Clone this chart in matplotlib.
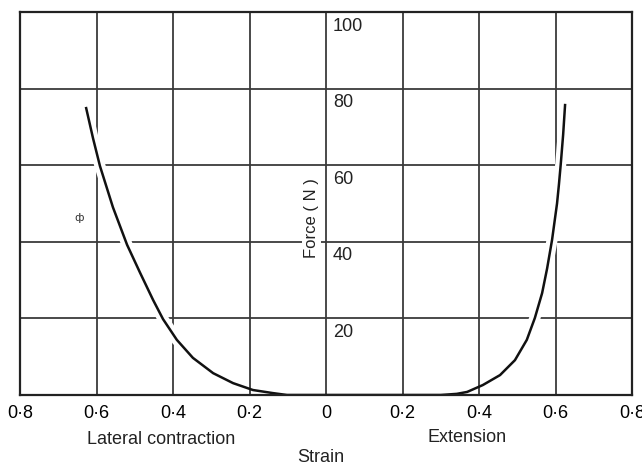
import matplotlib.pyplot as plt
from matplotlib import transforms

# Force-strain curve (strain, force in N)
strain = [-0.627, -0.609, -0.591, -0.557, -0.520, -0.486, -0.452, -0.426, -0.390,
          -0.348, -0.295, -0.243, -0.191, -0.139, -0.102, -0.05, 0.0,
          0.30, 0.342, 0.369, 0.410, 0.455, 0.494, 0.525, 0.546,
          0.565, 0.578, 0.591, 0.604, 0.609, 0.614, 0.620, 0.625]
force = [74.9, 67.0, 59.8, 49.0, 39.2, 31.9, 24.8, 19.8, 14.4,
         9.7, 5.7, 3.1, 1.3, 0.5, 0.0, 0.0, 0.0,
         0.0, 0.3, 0.8, 2.6, 5.2, 9.1, 14.4, 20.1,
         26.6, 33.0, 40.5, 50.0, 55.0, 60.6, 68.0, 75.7]

x_ticks = [-0.8, -0.6, -0.4, -0.2, 0.0, 0.2, 0.4, 0.6, 0.8]
x_labels = ["0·8", "0·6", "0·4", "0·2", "0", "0·2", "0·4", "0·6", "0·8"]
y_ticks = [20, 40, 60, 80, 100]

plt.rcParams["font.family"] = ["Liberation Sans", "DejaVu Sans"]

fig = plt.figure(figsize=(6.42, 4.68), dpi=100)
ax = fig.add_axes([20 / 642, 1 - 395 / 468, 612 / 642, 383 / 468])
ax.set_xlim(-0.8, 0.8)
ax.set_ylim(0, 100)

grid_col = "#3a3a3a"
ax.set_axisbelow(True)
ax.set_xticks(x_ticks)
ax.set_xticklabels(x_labels, fontsize=13)
ax.set_yticks(y_ticks)
ax.set_yticklabels([])
ax.tick_params(length=0, pad=7)
ax.tick_params(axis="y", left=False, labelleft=False)
ax.grid(True, color=grid_col, linewidth=1.3)
for s in ax.spines.values():
    s.set_color("#222222")
    s.set_linewidth(1.6)
    s.set_zorder(3)

# white halo under the curve breaks the grid lines where it crosses them
halo_x = [x for x, y in zip(strain, force) if y >= 4]
halo_y = [y for y in force if y >= 4]
left_n = sum(1 for x in halo_x if x < 0)
for xs, ys in ((halo_x[:left_n], halo_y[:left_n]), (halo_x[left_n:], halo_y[left_n:])):
    ax.plot(xs, ys, color="white", linewidth=8, solid_capstyle="butt",
            solid_joinstyle="round", zorder=1)

ax.plot(strain, force, color="#111111", linewidth=1.8, zorder=2.6,
        solid_joinstyle="round")

# force labels sit to the right of the central axis
for v in y_ticks:
    ax.annotate(str(v), xy=(0, v), xytext=(5, -4), textcoords="offset points",
                ha="left", va="top", fontsize=13, color="#222222")

ax.text(-0.039, 46.2, "Force ( N )", rotation=90, ha="center", va="center",
        fontsize=12, color="#222222", zorder=4,
        bbox=dict(facecolor="white", edgecolor="none", pad=1.5))

# small stray mark in the original scan
ax.text(-0.646, 46.2, "ф", ha="center", va="center", fontsize=8,
        family=["DejaVu Sans"], color="#333333")

trans = transforms.blended_transform_factory(ax.transData, ax.transAxes)
ax.text(-0.43, -0.117, "Lateral contraction", transform=trans, ha="center",
        va="center", fontsize=13, color="#222222")
ax.text(0.369, -0.112, "Extension", transform=trans, ha="center",
        va="center", fontsize=13, color="#222222")
ax.text(-0.013, -0.164, "Strain", transform=trans, ha="center",
        va="center", fontsize=13, color="#222222")

fig.savefig("out.png", dpi=100)
